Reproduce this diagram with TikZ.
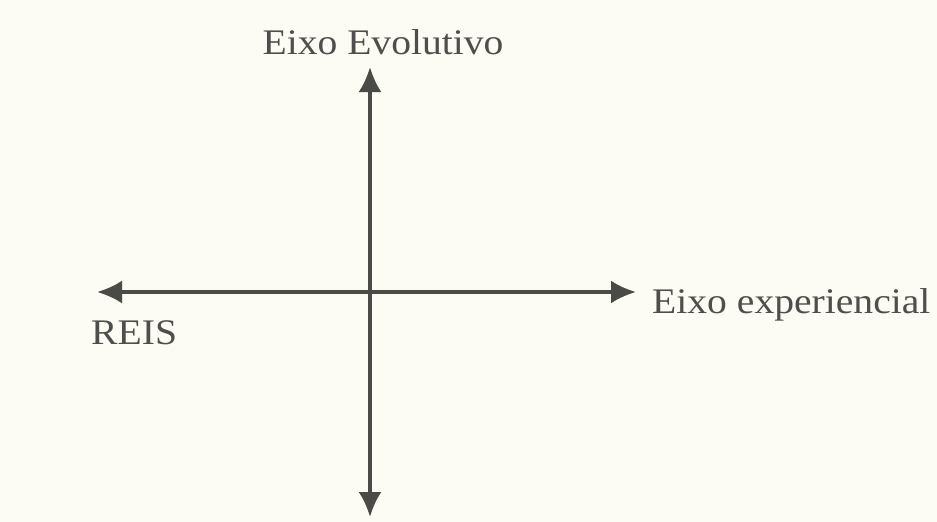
\documentclass[tikz,border=0pt]{standalone}
\usepackage{fontspec}
\setmainfont{Liberation Serif}
\usetikzlibrary{arrows.meta}
\definecolor{bg}{HTML}{FCFCF4}
\definecolor{ink}{HTML}{4A4A46}
\definecolor{txt}{HTML}{4E4E4C}
\tikzset{
  axis/.style={draw=ink, line width=3.6pt, {Latex[length=25pt,width=23pt]}-{Latex[length=25pt,width=23pt]}},
  lbl/.style={text=txt, inner sep=0pt, xscale=1.1, font=\fontsize{36}{40}\selectfont}
}
\begin{document}
\begin{tikzpicture}[x=1pt,y=-1pt]
\fill[bg] (0,0) rectangle (937,522);
\useasboundingbox (0,0) rectangle (937,522);
\coordinate (top) at (370,67);
\coordinate (bot) at (370,517);
\coordinate (lft) at (97,292);
\coordinate (rgt) at (636,292);
\draw[axis] (lft) -- (rgt);
\draw[axis] (bot) -- (top);
\node[lbl, anchor=base] (evo) at (383,54) {Eixo Evolutivo};
\node[lbl, anchor=base west] (exp) at (652,313) {Eixo experiencial};
\node[lbl, anchor=base west] (reis) at (91,344) {REIS};
\end{tikzpicture}
\end{document}
